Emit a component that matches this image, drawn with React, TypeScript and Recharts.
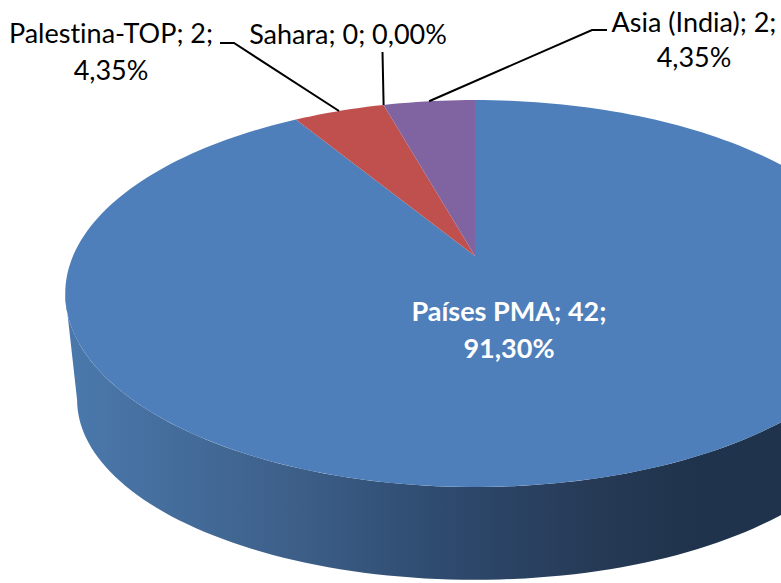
import { PieChart, Pie } from "recharts";

const categories = ["Países PMA", "Palestina-TOP", "Sahara", "Asia (India)"];
const values = [42, 2, 0, 2];
const sliceColors = ["#4e7fbb", "#c0504d", "#9bbb59", "#8064a2"];

const chartData = categories.map((name, i) => ({
  name,
  value: values[i],
  fill: sliceColors[i],
}));

const FONT = "Lato, Carlito, sans-serif";
const PERSPECTIVE = 0.194;
const STEP = 1.5;
// the part of the rim that faces the viewer, between the two silhouette points
const FRONT_FROM = -168.8;
const FRONT_TO = -11.2;

// project an angle on the flat disc onto the tilted face
function project(cx: number, cy: number, r: number, flat: number, deg: number) {
  const a = (deg * Math.PI) / 180;
  const d = 1 + PERSPECTIVE * Math.sin(a);
  return [cx + (r * Math.cos(a)) / d, cy - (flat * r * Math.sin(a)) / d];
}

function sweep(start: number, end: number) {
  const out: number[] = [];
  const n = Math.max(1, Math.ceil(Math.abs(end - start) / STEP));
  for (let i = 0; i <= n; i++) out.push(start + ((end - start) * i) / n);
  return out;
}

function toPath(points: number[][]) {
  return points.map((p, i) => `${i ? "L" : "M"}${p[0].toFixed(2)} ${p[1].toFixed(2)}`).join(" ") + " Z";
}

function TopSlice(props: any) {
  const { cx, cy, outerRadius, startAngle, endAngle, fill } = props;
  const rim = sweep(startAngle, endAngle).map((d) => project(cx, cy, outerRadius, 0.4632, d));
  return <path d={toPath([[cx, cy], ...rim])} fill={fill} />;
}

function WallSlice(props: any) {
  const { cx, cy, outerRadius, startAngle, endAngle } = props;
  const lo = Math.max(Math.min(startAngle, endAngle), FRONT_FROM);
  const hi = Math.min(Math.max(startAngle, endAngle), FRONT_TO);
  if (lo >= hi) return null;
  const angles = sweep(lo, hi);
  const upper = angles.map((d) => project(cx, cy, outerRadius, 0.4632, d));
  const lower = angles
    .map((d) => project(cx, cy + 109, outerRadius * 0.971, 0.4436, d))
    .reverse();
  return <path d={toPath([...upper, ...lower])} fill="url(#wallShade)" />;
}

const labelSpots: Record<string, any> = {
  "Países PMA": { x: 509, lines: [321, 358], bold: true },
  "Palestina-TOP": { x: 111, lines: [43, 80], elbow: [[220, 43], [234, 43]] },
  Sahara: { x: 348, lines: [44], elbow: [[382.5, 52]] },
  "Asia (India)": { x: 694, lines: [32, 67], elbow: [[607, 30], [592, 30]] },
};

function SliceLabel(props: any) {
  const { cx, cy, outerRadius, midAngle, name, value, percent } = props;
  const spot = labelSpots[name];
  const pct = `${(percent * 100).toFixed(2).replace(".", ",")}%`;
  const rows = spot.lines.length > 1 ? [`${name}; ${value};`, pct] : [`${name}; ${value}; ${pct}`];
  const edge = project(cx, cy, outerRadius, 0.4632, midAngle);
  const leader = spot.elbow ? [...spot.elbow, edge] : null;
  return (
    <g>
      {leader && (
        <polyline
          points={leader.map((p: number[]) => p.join(",")).join(" ")}
          fill="none"
          stroke="#000"
          strokeWidth={2}
        />
      )}
      {rows.map((row: string, i: number) => (
        <text
          key={row}
          x={spot.x}
          y={spot.lines[i]}
          textAnchor="middle"
          fontFamily={FONT}
          fontSize={27}
          fontWeight={spot.bold ? 700 : 400}
          fill={spot.bold ? "#fff" : "#000"}
          style={{ fontVariantLigatures: "none" }}
        >
          {row}
        </text>
      ))}
    </g>
  );
}

export default function App() {
  return (
    <div style={{ position: "absolute", left: 0, top: 0, width: 781, height: 583, overflow: "hidden" }}>
      <PieChart width={781} height={583} margin={{ top: 0, right: 0, bottom: 0, left: 0 }}>
        <defs>
          <linearGradient id="wallShade" gradientUnits="userSpaceOnUse" x1={65} y1={0} x2={781} y2={0}>
            <stop offset="0%" stopColor="#4b79ad" />
            <stop offset="30%" stopColor="#3e618b" />
            <stop offset="53%" stopColor="#2e4a6e" />
            <stop offset="74%" stopColor="#263a56" />
            <stop offset="88%" stopColor="#1f334c" />
            <stop offset="100%" stopColor="#1f334c" />
          </linearGradient>
        </defs>
        <Pie
          data={chartData}
          dataKey="value"
          nameKey="name"
          cx={475}
          cy={256}
          outerRadius={402}
          startAngle={90}
          endAngle={-270}
          shape={WallSlice}
          label={false}
          labelLine={false}
          isAnimationActive={false}
        />
        <Pie
          data={chartData}
          dataKey="value"
          nameKey="name"
          cx={475}
          cy={256}
          outerRadius={402}
          startAngle={90}
          endAngle={-270}
          shape={TopSlice}
          label={SliceLabel}
          labelLine={false}
          isAnimationActive={false}
        />
      </PieChart>
    </div>
  );
}
